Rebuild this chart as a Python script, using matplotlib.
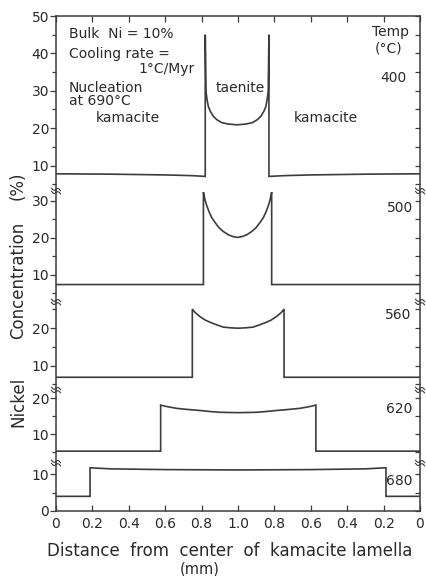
import matplotlib
matplotlib.use("Agg")
import matplotlib.pyplot as plt
from matplotlib.ticker import MultipleLocator, FixedLocator, FixedFormatter
from matplotlib.lines import Line2D
import numpy as np

# ---------------- data ----------------
temps = ["400", "500", "560", "620", "680"]

dist_400 = [0.0, 0.3, 0.6, 0.75, 0.82, 0.82, 0.824, 0.830, 0.837, 0.848, 0.864, 0.883,
            0.910, 0.947, 0.995, 1.043, 1.080, 1.107, 1.126, 1.142, 1.153, 1.160,
            1.166, 1.17, 1.17, 1.25, 1.4, 1.7, 2.0]
ni_400 = [7.8, 7.7, 7.5, 7.3, 7.1, 45.0, 29.9, 27.6, 25.8, 24.5, 23.2, 22.3,
          21.5, 21.1, 20.9, 21.1, 21.5, 22.3, 23.2, 24.5, 25.8, 27.6,
          29.9, 45.0, 7.1, 7.3, 7.5, 7.7, 7.8]

dist_500 = [0.0, 0.81, 0.81, 0.819, 0.828, 0.841, 0.855, 0.874, 0.896, 0.919, 0.947,
            0.974, 0.9975, 1.021, 1.048, 1.076, 1.099, 1.121, 1.140, 1.154, 1.167,
            1.176, 1.185, 1.185, 2.0]
ni_500 = [7.4, 7.4, 32.3, 30.2, 28.7, 27.0, 25.5, 24.1, 22.7, 21.7, 20.8,
          20.3, 20.1, 20.3, 20.8, 21.7, 22.7, 24.1, 25.5, 27.0, 28.7,
          30.2, 32.3, 7.4, 7.4]

dist_560 = [0.0, 0.749, 0.749, 0.764, 0.791, 0.819, 0.846, 0.883, 0.919, 0.960, 1.001,
            1.042, 1.083, 1.119, 1.156, 1.183, 1.211, 1.238, 1.253, 1.253, 2.0]
ni_560 = [6.9, 6.9, 25.1, 24.2, 23.1, 22.2, 21.6, 20.9, 20.3, 20.1, 20.0,
          20.1, 20.3, 20.9, 21.6, 22.2, 23.1, 24.2, 25.1, 6.9, 6.9]

dist_620 = [0.0, 0.575, 0.575, 0.608, 0.663, 0.72, 0.791, 0.85, 0.901, 1.0, 1.10,
            1.15, 1.21, 1.28, 1.34, 1.395, 1.428, 1.428, 2.0]
ni_620 = [5.3, 5.3, 18.1, 17.7, 17.2, 16.9, 16.6, 16.3, 16.1, 16.0, 16.1,
          16.3, 16.6, 16.9, 17.2, 17.7, 18.1, 5.3, 5.3]

dist_680 = [0.0, 0.187, 0.187, 0.3, 0.6, 1.0, 1.4, 1.7, 1.813, 1.813, 2.0]
ni_680 = [4.0, 4.0, 11.8, 11.5, 11.3, 11.2, 11.3, 11.5, 11.8, 4.0, 4.0]

profiles = [(dist_400, ni_400), (dist_500, ni_500), (dist_560, ni_560),
            (dist_620, ni_620), (dist_680, ni_680)]

x_ticks = [0.0, 0.2, 0.4, 0.6, 0.8, 1.0, 1.2, 1.4, 1.6, 1.8, 2.0]
x_ticklabels = ["0", "0.2", "0.4", "0.6", "0.8", "1.0", "0.8", "0.6", "0.4", "0.2", "0"]

# ---------------- layout ----------------
W, H = 427, 576
fig = plt.figure(figsize=(W / 100, H / 100), dpi=100)
fig.patch.set_facecolor("white")
plt.rcParams["font.family"] = ["DejaVu Sans"]

LC = "#3c3c3c"
TC = "#2a2a2a"
L, R = 56, 420
bounds = [(16, 191), (191, 302), (302, 390), (390, 463), (463, 511)]
ylims = [(3.2, 50.0), (2.7, 32.6), (3.5, 27.0), (2.0, 22.3), (0.0, 13.1)]


def fx(x):
    return x / W


def fy(y):
    return 1 - y / H


axes = []
for i, ((top, bot), (y0, y1), (xs, ys)) in enumerate(zip(bounds, ylims, profiles)):
    ax = fig.add_axes([fx(L), fy(bot), (R - L) / W, (bot - top) / H])
    ax.set_facecolor("none")
    ax.plot(xs, ys, color=LC, lw=1.2, solid_joinstyle="miter")
    ax.set_xlim(0, 2)
    ax.set_ylim(y0, y1)
    for s in ["top", "bottom", "right"]:
        ax.spines[s].set_visible(False)
    ax.spines["left"].set_color(LC)
    ax.spines["left"].set_linewidth(1.1)
    if i == 0:
        ax.spines["top"].set_visible(True)
    if i == 4:
        ax.spines["bottom"].set_visible(True)
    for s in ["top", "bottom"]:
        ax.spines[s].set_color(LC)
        ax.spines[s].set_linewidth(1.1)

    ax.yaxis.set_major_locator(MultipleLocator(10))
    ax.yaxis.set_minor_locator(MultipleLocator(5))
    ax.tick_params(axis="y", which="both", left=True, right=False, direction="out",
                   color=LC, width=0.9, labelsize=10, labelcolor=TC, pad=1)
    ax.tick_params(axis="y", which="major", length=4)
    ax.tick_params(axis="y", which="minor", length=3)

    sec = ax.secondary_yaxis("right")
    sec.yaxis.set_major_locator(MultipleLocator(5))
    sec.tick_params(axis="y", which="both", direction="in", length=3.5, width=0.9,
                    color=LC, labelright=False)
    sec.spines["right"].set_color(LC)
    sec.spines["right"].set_linewidth(1.1)

    ax.xaxis.set_major_locator(FixedLocator(x_ticks))
    ax.xaxis.set_major_formatter(FixedFormatter(x_ticklabels))
    if i == 0:
        ax.tick_params(axis="x", top=True, bottom=False, labelbottom=False,
                       direction="in", length=4, width=0.9, color=LC)
    elif i == 4:
        ax.tick_params(axis="x", top=False, bottom=True, labelbottom=True,
                       direction="in", length=4, width=0.9, color=LC,
                       labelsize=10, labelcolor=TC, pad=4)
    else:
        ax.tick_params(axis="x", top=False, bottom=False, labelbottom=False)
    axes.append(ax)

# break marks at the panel joins, on both spines
t = np.linspace(-1, 1, 25)
for (_, bot) in bounds[:-1]:
    for xs_ in (L, R):
        for off in (-1.6, 1.6):
            bx = xs_ + 4.5 * t
            by = bot + off - 1.4 * np.sin(np.pi * t) + 1.2 * t
            fig.add_artist(Line2D(fx(bx), fy(by), color=LC, lw=0.8))

# ---------------- texts ----------------
def ftext(x, y, s, **kw):
    kw.setdefault("fontsize", 10)
    kw.setdefault("color", TC)
    fig.text(fx(x), fy(y), s, **kw)

ftext(69, 34, "Bulk  Ni = 10%", ha="left", va="center")
ftext(69, 54, "Cooling rate =", ha="left", va="center")
ftext(138, 69, "1°C/Myr", ha="left", va="center")
ftext(69, 88, "Nucleation", ha="left", va="center")
ftext(69, 101, "at 690°C", ha="left", va="center")
ftext(128, 118, "kamacite", ha="center", va="center")
ftext(240, 88, "taenite", ha="center", va="center")
ftext(326, 118, "kamacite", ha="center", va="center")
ftext(391, 32, "Temp", ha="center", va="center")
ftext(389, 48, "(°C)", ha="center", va="center")

temp_y = [78, 208, 315, 409, 481]
temp_x = [393, 400, 398, 399, 399]
for tx, ty, s in zip(temp_x, temp_y, temps):
    ftext(tx, ty, s, ha="center", va="center")

# axis titles
ftext(230, 556, "Distance  from  center  of  kamacite lamella", ha="center",
      va="baseline", fontsize=12)
ftext(200, 568.5, "(mm)", ha="center", va="center", fontsize=10.5)
ftext(18, 402, "Nickel", ha="center", va="center", rotation=90, fontsize=12)
ftext(18, 280, "Concentration", ha="center", va="center", rotation=90, fontsize=12)
ftext(18, 186, "(%)", ha="center", va="center", rotation=90, fontsize=12)

fig.savefig("out.png", dpi=100, facecolor="white")
